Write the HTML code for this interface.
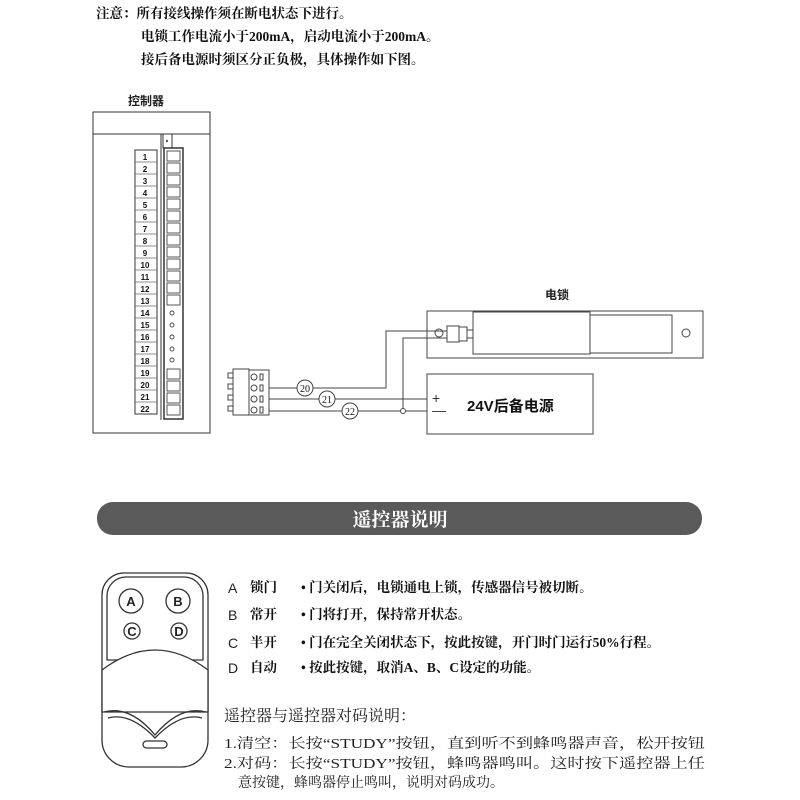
<!DOCTYPE html>
<html><head><meta charset="utf-8"><style>
html,body{margin:0;padding:0;background:#fff;width:800px;height:800px;overflow:hidden}
svg{display:block}
.s{font-family:"Liberation Serif","Noto Serif CJK SC",serif}
.h{font-family:"Liberation Sans","Noto Sans CJK SC",sans-serif}
</style></head><body>
<svg width="800" height="800" viewBox="0 0 800 800" xmlns="http://www.w3.org/2000/svg">
<g class="s" font-size="13.5" fill="#111" font-weight="bold">
<text x="96" y="18">注意：所有接线操作须在断电状态下进行。</text>
<text x="141" y="41">电锁工作电流小于200mA，启动电流小于200mA。</text>
<text x="141" y="64">接后备电源时须区分正负极，具体操作如下图。</text>
</g>
<text x="128" y="105" class="h" font-size="12" font-weight="bold" fill="#222">控制器</text>
<g fill="none" stroke="#333" stroke-width="1">
<rect x="93" y="112" width="117" height="321"/>
<line x1="93" y1="134" x2="210" y2="134"/>
<line x1="161" y1="134" x2="161" y2="420"/>
<rect x="163" y="134" width="9" height="14"/>
<rect x="164" y="148" width="19" height="271" stroke-width="1.5"/>
<rect x="135" y="150" width="22" height="264"/>
</g>
<circle cx="167" cy="141" r="1.2" fill="#555"/>
<g stroke="#666" stroke-width="0.8">
<line x1="135" y1="162" x2="157" y2="162"/><line x1="135" y1="174" x2="157" y2="174"/><line x1="135" y1="186" x2="157" y2="186"/><line x1="135" y1="198" x2="157" y2="198"/><line x1="135" y1="210" x2="157" y2="210"/><line x1="135" y1="222" x2="157" y2="222"/><line x1="135" y1="234" x2="157" y2="234"/><line x1="135" y1="246" x2="157" y2="246"/><line x1="135" y1="258" x2="157" y2="258"/><line x1="135" y1="270" x2="157" y2="270"/><line x1="135" y1="282" x2="157" y2="282"/><line x1="135" y1="294" x2="157" y2="294"/><line x1="135" y1="306" x2="157" y2="306"/><line x1="135" y1="318" x2="157" y2="318"/><line x1="135" y1="330" x2="157" y2="330"/><line x1="135" y1="342" x2="157" y2="342"/><line x1="135" y1="354" x2="157" y2="354"/><line x1="135" y1="366" x2="157" y2="366"/><line x1="135" y1="378" x2="157" y2="378"/><line x1="135" y1="390" x2="157" y2="390"/><line x1="135" y1="402" x2="157" y2="402"/>
</g>
<g class="h" font-size="8" font-weight="bold" fill="#111" text-anchor="middle">
<text x="145" y="160">1</text><text x="145" y="172">2</text><text x="145" y="184">3</text><text x="145" y="196">4</text><text x="145" y="208">5</text><text x="145" y="220">6</text><text x="145" y="232">7</text><text x="145" y="244">8</text><text x="145" y="256">9</text><text x="145" y="268">10</text><text x="145" y="280">11</text><text x="145" y="292">12</text><text x="145" y="304">13</text><text x="145" y="316">14</text><text x="145" y="328">15</text><text x="145" y="340">16</text><text x="145" y="352">17</text><text x="145" y="364">18</text><text x="145" y="376">19</text><text x="145" y="388">20</text><text x="145" y="400">21</text><text x="145" y="412">22</text>
</g>
<g fill="none" stroke="#444" stroke-width="0.9">
<rect x="167" y="151" width="13" height="10"/><rect x="167" y="163" width="13" height="10"/><rect x="167" y="175" width="13" height="10"/><rect x="167" y="187" width="13" height="10"/><rect x="167" y="199" width="13" height="10"/><rect x="167" y="211" width="13" height="10"/><rect x="167" y="223" width="13" height="10"/><rect x="167" y="235" width="13" height="10"/><rect x="167" y="247" width="13" height="10"/><rect x="167" y="259" width="13" height="10"/><rect x="167" y="271" width="13" height="10"/><rect x="167" y="283" width="13" height="10"/><rect x="167" y="295" width="13" height="10"/>
<circle cx="172" cy="313" r="2"/><circle cx="172" cy="325" r="2"/><circle cx="172" cy="337" r="2"/><circle cx="172" cy="349" r="2"/><circle cx="172" cy="360" r="2"/>
<rect x="167" y="369" width="13" height="10"/><rect x="167" y="381" width="13" height="10"/><rect x="167" y="393" width="13" height="10"/><rect x="167" y="405" width="13" height="10"/>
</g>
<text x="545" y="299" class="h" font-size="12" font-weight="bold" fill="#222">电锁</text>
<g fill="none" stroke="#444" stroke-width="1">
<rect x="427" y="311" width="276" height="47"/>
<rect x="473" y="312" width="117" height="42"/>
<rect x="590" y="315" width="82" height="38"/>
<circle cx="686" cy="333" r="4"/>
<circle cx="439" cy="333" r="4"/>
<rect x="447" y="326" width="12" height="16"/>
<rect x="459" y="327" width="8" height="14"/>
<line x1="467" y1="330" x2="473" y2="330"/><line x1="467" y1="338" x2="473" y2="338"/>
<rect x="427" y="374" width="166" height="60"/>
<rect x="233" y="369" width="16" height="46"/>
<rect x="228" y="373" width="5" height="5"/><rect x="228" y="384" width="5" height="5"/><rect x="228" y="395" width="5" height="5"/><rect x="228" y="406" width="5" height="5"/>
<circle cx="254" cy="377" r="3"/><circle cx="254" cy="388" r="3"/><circle cx="254" cy="399" r="3"/><circle cx="254" cy="410" r="3"/>
<rect x="260" y="374" width="3" height="6"/><rect x="260" y="385" width="3" height="6"/><rect x="260" y="396" width="3" height="6"/><rect x="260" y="407" width="3" height="6"/>
<rect x="249" y="370" width="20" height="45"/>
<polyline points="269,388 386,388 386,331 447,331"/>
<line x1="269" y1="399" x2="427" y2="399"/>
<line x1="269" y1="411" x2="427" y2="411"/>
<polyline points="403,411 403,338 447,338"/>
<circle cx="305" cy="388" r="8" fill="#fff"/>
<circle cx="327" cy="399" r="8" fill="#fff"/>
<circle cx="350" cy="411" r="8" fill="#fff"/>
<circle cx="403" cy="411" r="2.5" fill="#fff"/>
</g>
<g class="s" font-size="10" fill="#111" text-anchor="middle">
<text x="305" y="392">20</text><text x="327" y="403">21</text><text x="350" y="415">22</text>
</g>
<g class="h" fill="#333" font-size="14"><text x="432" y="403">+</text><text x="432" y="415">—</text></g>
<text x="467" y="411" class="h" font-size="15" font-weight="bold" fill="#111">24V后备电源</text>
<rect x="97" y="502" width="605" height="33" rx="16" fill="#5a5a5a"/>
<text x="400" y="526" text-anchor="middle" class="s" font-size="19" font-weight="bold" fill="#fff">遥控器说明</text>
<g fill="none" stroke="#333" stroke-width="1.3">
<path d="M122,573 H186 A22,22 0 0 1 208,595 V740 A27,27 0 0 1 181,767 H129 A27,27 0 0 1 102,740 V595 A22,22 0 0 1 124,573 Z"/>
<path d="M125,577 H184 A19,19 0 0 1 203,596 V660 H107 V596 A19,19 0 0 1 126,577 Z"/>
<path d="M102,670 Q155,630 208,670 V712 H102 Z" fill="#fff"/>
<path d="M104,712 Q130,705 155,735 Q180,705 206,712"/>
<path d="M108,718 Q130,712 155,738 Q180,712 202,718"/>
<circle cx="131" cy="601" r="12"/><circle cx="178" cy="601" r="12"/>
<circle cx="132" cy="631" r="8"/><circle cx="179" cy="631" r="8"/>
<rect x="143" y="741" width="24" height="7" rx="3.5"/>
</g>
<g class="h" font-size="13" font-weight="bold" fill="#222" text-anchor="middle">
<text x="131" y="606">A</text><text x="178" y="606">B</text><text x="132" y="636">C</text><text x="179" y="636">D</text>
</g>
<g class="h" font-size="14" fill="#222"><text x="228" y="593">A</text><text x="228" y="620">B</text><text x="228" y="648">C</text><text x="228" y="673">D</text></g>
<g class="s" font-size="13.5" fill="#111" font-weight="bold">
<text x="250" y="592">锁门</text><text x="250" y="619">常开</text><text x="250" y="647">半开</text><text x="250" y="672">自动</text>
<text x="301" y="592">• 门关闭后，电锁通电上锁，传感器信号被切断。</text>
<text x="301" y="619">• 门将打开，保持常开状态。</text>
<text x="301" y="647">• 门在完全关闭状态下，按此按键，开门时门运行50%行程。</text>
<text x="301" y="672">• 按此按键，取消A、B、C设定的功能。</text>
</g>
<text x="224" y="721" class="s" font-size="16" fill="#222">遥控器与遥控器对码说明：</text>
<g class="s" font-size="14" fill="#222">
<text x="224" y="748" textLength="481" lengthAdjust="spacingAndGlyphs">1.清空：长按“STUDY”按钮，直到听不到蜂鸣器声音，松开按钮</text>
<text x="224" y="768" textLength="481" lengthAdjust="spacingAndGlyphs">2.对码：长按“STUDY”按钮，蜂鸣器鸣叫。这时按下遥控器上任</text>
<text x="238" y="787">意按键，蜂鸣器停止鸣叫，说明对码成功。</text>
</g>
</svg>
</body></html>
